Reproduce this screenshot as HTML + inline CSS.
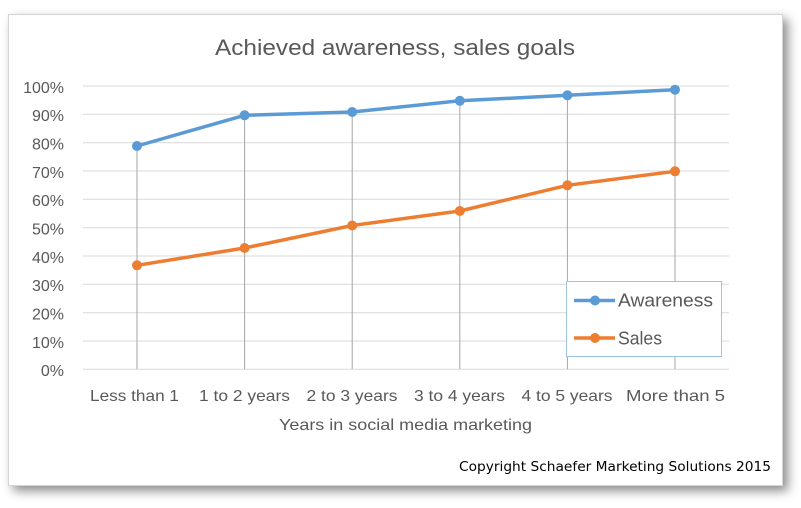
<!DOCTYPE html>
<html><head><meta charset="utf-8"><style>
html,body{margin:0;padding:0;background:#fff;}
body{width:801px;height:508px;position:relative;overflow:hidden;}
.frame{position:absolute;left:8px;top:14px;width:773px;height:470px;border:1px solid #d4d4d4;background:#fff;box-shadow:5px 5px 10px rgba(0,0,0,0.45);}
svg{position:absolute;left:0;top:0;}
</style></head><body>
<div class="frame"></div>
<svg width="801" height="508" viewBox="0 0 801 508" xmlns="http://www.w3.org/2000/svg">
<g stroke="#d9d9d9" stroke-width="1">
<line x1="83" x2="729" y1="86" y2="86"/>
<line x1="83" x2="729" y1="114.3" y2="114.3"/>
<line x1="83" x2="729" y1="142.7" y2="142.7"/>
<line x1="83" x2="729" y1="171" y2="171"/>
<line x1="83" x2="729" y1="199.3" y2="199.3"/>
<line x1="83" x2="729" y1="227.7" y2="227.7"/>
<line x1="83" x2="729" y1="256" y2="256"/>
<line x1="83" x2="729" y1="284.3" y2="284.3"/>
<line x1="83" x2="729" y1="312.7" y2="312.7"/>
<line x1="83" x2="729" y1="341" y2="341"/>
<line x1="83" x2="729" y1="369.3" y2="369.3"/>
</g>
<g stroke="#a6a6a6" stroke-width="1">
<line x1="137" x2="137" y1="146" y2="369"/>
<line x1="244.6" x2="244.6" y1="115" y2="369"/>
<line x1="352.2" x2="352.2" y1="112" y2="369"/>
<line x1="459.8" x2="459.8" y1="101" y2="369"/>
<line x1="567.4" x2="567.4" y1="95" y2="369"/>
<line x1="675" x2="675" y1="90" y2="369"/>
</g>
<polyline fill="none" stroke="#5b9bd5" stroke-width="3.5" stroke-linejoin="round" points="137,146 244.6,115.3 352.2,112 459.8,100.8 567.4,95.3 675,89.7"/>
<g fill="#5b9bd5">
<circle cx="137" cy="146" r="5"/><circle cx="244.6" cy="115.3" r="5"/><circle cx="352.2" cy="112" r="5"/><circle cx="459.8" cy="100.8" r="5"/><circle cx="567.4" cy="95.3" r="5"/><circle cx="675" cy="89.7" r="5"/>
</g>
<polyline fill="none" stroke="#ed7d31" stroke-width="3.5" stroke-linejoin="round" points="137,265.3 244.6,248 352.2,225.5 459.8,211 567.4,185.3 675,171.3"/>
<g fill="#ed7d31">
<circle cx="137" cy="265.3" r="5"/><circle cx="244.6" cy="248" r="5"/><circle cx="352.2" cy="225.5" r="5"/><circle cx="459.8" cy="211" r="5"/><circle cx="567.4" cy="185.3" r="5"/><circle cx="675" cy="171.3" r="5"/>
</g>
<text x="215" y="55" font-family="Liberation Sans, sans-serif" font-size="22" fill="#595959" textLength="360" lengthAdjust="spacingAndGlyphs">Achieved awareness, sales goals</text>
<g font-family="Liberation Sans, sans-serif" font-size="16" fill="#595959" text-anchor="end">
<text x="64" y="93">100%</text>
<text x="64" y="121">90%</text>
<text x="64" y="149.5">80%</text>
<text x="64" y="178">70%</text>
<text x="64" y="206">60%</text>
<text x="64" y="234.5">50%</text>
<text x="64" y="263">40%</text>
<text x="64" y="291">30%</text>
<text x="64" y="319.5">20%</text>
<text x="64" y="348">10%</text>
<text x="64" y="376">0%</text>
</g>
<g font-family="Liberation Sans, sans-serif" font-size="16" fill="#595959">
<text x="90" y="401" textLength="89" lengthAdjust="spacingAndGlyphs">Less than 1</text>
<text x="199" y="401" textLength="91" lengthAdjust="spacingAndGlyphs">1 to 2 years</text>
<text x="306.5" y="401" textLength="91" lengthAdjust="spacingAndGlyphs">2 to 3 years</text>
<text x="414" y="401" textLength="91" lengthAdjust="spacingAndGlyphs">3 to 4 years</text>
<text x="521.5" y="401" textLength="91" lengthAdjust="spacingAndGlyphs">4 to 5 years</text>
<text x="626" y="401" textLength="99" lengthAdjust="spacingAndGlyphs">More than 5</text>
<text x="279" y="430" textLength="253" lengthAdjust="spacingAndGlyphs">Years in social media marketing</text>
</g>
<text x="459" y="471" font-family="DejaVu Sans, sans-serif" font-size="13" fill="#000" textLength="312" lengthAdjust="spacingAndGlyphs">Copyright Schaefer Marketing Solutions 2015</text>
<rect x="566.5" y="281.5" width="155" height="75" fill="#fff" stroke="#9dc3e6" stroke-width="1"/>
<line x1="574" x2="615" y1="300.5" y2="300.5" stroke="#5b9bd5" stroke-width="3.5"/>
<circle cx="595" cy="300.5" r="5" fill="#5b9bd5"/>
<line x1="574" x2="615" y1="338" y2="338" stroke="#ed7d31" stroke-width="3.5"/>
<circle cx="595" cy="338" r="5" fill="#ed7d31"/>
<g font-family="Liberation Sans, sans-serif" font-size="18" fill="#595959">
<text x="618" y="306.5" textLength="95" lengthAdjust="spacingAndGlyphs">Awareness</text>
<text x="618" y="344.5" textLength="44" lengthAdjust="spacingAndGlyphs">Sales</text>
</g>
</svg>
</body></html>
